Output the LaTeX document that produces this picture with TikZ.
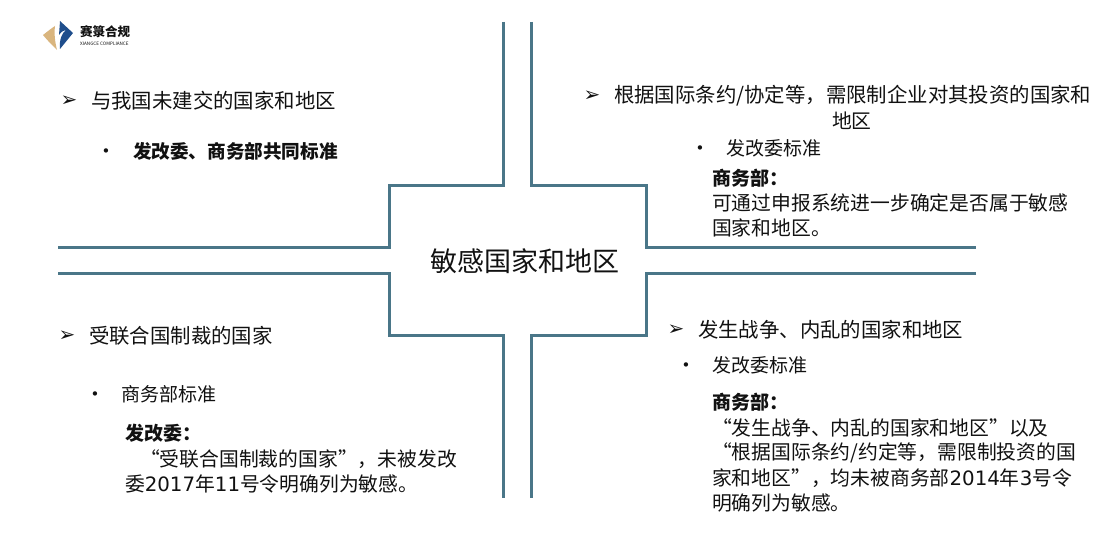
\documentclass[tikz,border=0pt]{standalone}
\usepackage{fontspec}
\setmainfont{Noto Sans CJK SC}
\newfontfamily\symf{DejaVu Sans}
\newcommand{\dg}[1]{{\symf #1}}
\definecolor{frame}{HTML}{4A7688}
\definecolor{ink}{HTML}{111111}
\definecolor{logoblue}{HTML}{1F4E8C}
\definecolor{logogold}{HTML}{D9B57E}
\tikzset{
 x=1pt,y=-1pt,
 cross/.style={draw=frame,line width=3pt,line join=miter},
 txt/.style={anchor=west,inner sep=0pt,outer sep=0pt,text=ink,font=\fontsize{19.8}{23}\selectfont},
 txtn/.style={txt,font=\fontsize{19}{23}\selectfont},
 txtl/.style={txt,font=\fontsize{20.4}{23}\selectfont},
 txtb/.style={txt,font=\fontsize{19}{22}\selectfont\bfseries},
 bul/.style={anchor=center,inner sep=0pt,text=ink,font=\symf\fontsize{20}{20}\selectfont},
 dotb/.style={anchor=center,inner sep=0pt,text=ink,font=\symf\fontsize{15}{15}\selectfont},
}
\begin{document}
\begin{tikzpicture}
\useasboundingbox (0,0) rectangle (1114,553);
\fill[white] (0,0) rectangle (1114,553);
\draw[cross] (503,22)--(503,185.5)--(389,185.5)--(389,247.5)--(58,247.5);
\draw[cross] (531,22)--(531,185.5)--(646,185.5)--(646,247.5)--(976,247.5);
\draw[cross] (58,273.5)--(389,273.5)--(389,335.5)--(503,335.5)--(503,498);
\draw[cross] (976,273.5)--(646,273.5)--(646,335.5)--(531,335.5)--(531,498);
\node[anchor=center,inner sep=0pt,text=ink,font=\fontsize{27}{30}\selectfont] (c) at (524.5,261) {敏感国家和地区};
% logo
\fill[logogold] (43,35) .. controls (48,31) and (52,28) .. (55,26) .. controls (54,34) and (55,42) .. (57,50) .. controls (52,45) and (47,40) .. (43,35) -- cycle;
\fill[logoblue] (60,21) -- (73,33) -- (60,49) .. controls (59,40) and (62,33) .. (66,30) .. controls (62,31) and (60,33) .. (59,35) -- cycle;
\node[anchor=west,inner sep=0pt,text=ink,font=\fontsize{12.5}{12}\selectfont\bfseries] (lg1) at (80,32) {赛箓合规};
\node[anchor=west,inner sep=0pt,text=ink,font=\fontsize{4.6}{4}\selectfont] (lg2) at (80,44) {XIANGCE COMPLIANCE};
% upper left
\node[bul] (b1) at (69,101) {➢};
\node[txtl] (t1) at (91,101) {与我国未建交的国家和地区};
\node[dotb] (d1) at (106,153) {•};
\node[txtb,font=\fontsize{18.6}{22}\selectfont\bfseries] (t2) at (133,151) {发改委、商务部共同标准};
% upper right
\node[bul] (b2) at (592,96) {➢};
\node[txtl] (t3) at (614,96) {根据国际条约/协定等，需限制企业对其投资的国家和};
\node[txt] (t4) at (832,121) {地区};
\node[dotb] (d2) at (700,150) {•};
\node[txtn] (t5) at (726,148) {发改委标准};
\node[txtb] (t6) at (712,178) {商务部：};
\node[txt] (t7) at (712,203) {可通过申报系统进一步确定是否属于敏感};
\node[txt] (t8) at (712,228) {国家和地区。};
% lower left
\node[bul] (b3) at (67,336) {➢};
\node[txtl] (t9) at (89,336) {受联合国制裁的国家};
\node[dotb] (d3) at (95,396) {•};
\node[txtn] (t10) at (121,394) {商务部标准};
\node[txtb] (t11) at (125,433) {发改委：};
\node[txt] (t12) at (140,459) {“受联合国制裁的国家”，未被发改};
\node[txt] (t13) at (125,484) {委\dg{2017}年\dg{11}号令明确列为敏感。};
% lower right
\node[bul] (b4) at (676,330) {➢};
\node[txtl] (t14) at (698,330) {发生战争、内乱的国家和地区};
\node[dotb] (d4) at (686,367) {•};
\node[txtn] (t15) at (712,365) {发改委标准};
\node[txtb] (t16) at (712,402) {商务部：};
\node[txt] (t17) at (712,428) {“发生战争、内乱的国家和地区”以及};
\node[txt] (t18) at (712,453) {“根据国际条约/约定等，需限制投资的国};
\node[txt] (t19) at (712,478) {家和地区”，均未被商务部\dg{2014}年\dg{3}号令};
\node[txt] (t20) at (712,503) {明确列为敏感。};
\end{tikzpicture}
\end{document}
